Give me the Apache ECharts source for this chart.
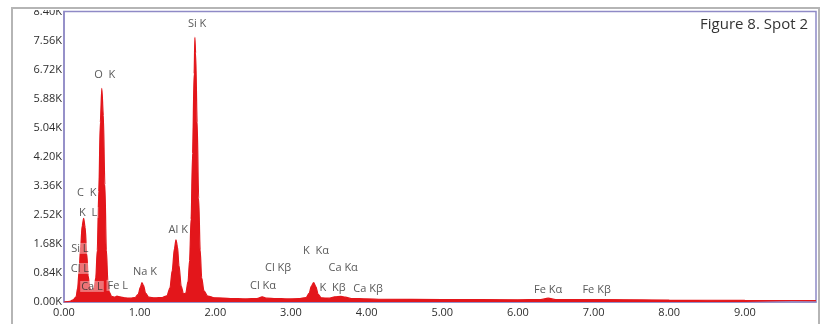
<!DOCTYPE html>
<html><head><meta charset="utf-8">
<script src="https://cdn.jsdelivr.net/npm/echarts@6/dist/echarts.min.js"></script>
<style>html,body{margin:0;padding:0;background:#fff}#c{width:824px;height:324px}</style>
</head><body><div id="c"></div>
<script>
// Spectrum: energy (keV) and counts
const energy = [0.00,0.08,0.12,0.16,0.18,0.20,0.22,0.24,0.26,0.28,0.30,0.32,0.34,0.36,0.38,0.40,0.42,0.44,0.46,0.48,0.50,0.52,0.54,0.56,0.58,0.60,0.63,0.67,0.70,0.74,0.80,0.88,0.94,0.98,1.01,1.03,1.05,1.08,1.12,1.20,1.30,1.36,1.40,1.43,1.46,1.48,1.50,1.52,1.55,1.58,1.61,1.64,1.66,1.68,1.70,1.72,1.73,1.74,1.76,1.78,1.80,1.82,1.85,1.90,2.00,2.20,2.40,2.55,2.62,2.68,2.80,2.95,3.10,3.20,3.24,3.27,3.30,3.33,3.36,3.40,3.50,3.58,3.66,3.72,3.80,4.00,4.20,5.00,6.00,6.30,6.40,6.50,7.05,8.00,9.00,9.94];
const counts = [0,20,60,150,400,900,1600,2200,2420,2150,1400,750,420,330,340,420,700,1500,3200,5200,6180,5400,3400,1500,600,280,160,140,170,150,120,110,130,220,430,560,480,250,140,120,130,180,400,900,1550,1800,1600,1050,450,230,260,600,1200,2400,4300,6600,7650,7200,5200,3000,1500,700,320,170,120,100,90,100,150,110,100,90,95,130,250,460,560,440,220,120,110,150,160,140,100,90,80,70,65,70,110,70,70,55,45,40];
// Peak annotations: text, energy, label height
const peakNames = ["Si K","O  K","C  K","K  L","Si L","Cl L","Ca L","Fe L","Na K","Al K","Cl Kβ","Cl Kα","K  Kα","Ca Kα","K  Kβ","Ca Kβ","Fe Kα","Fe Kβ"];
const peakE =     [1.76,0.54,0.30,0.32,0.21,0.21,0.37,0.71,1.07,1.51,2.83,2.63,3.33,3.69,3.55,4.02,6.40,7.04];
const peakY =     [8040,6560,3170,2590,1550,970,450,480,880,2100,1000,480,1490,1000,420,390,360,340];
const yTicks = [0,840,1680,2520,3360,4200,5040,5880,6720,7560,8400];
const title = "Figure 8. Spot 2";

const chart = echarts.init(document.getElementById('c'));
const font = "'Open Sans', 'Noto Sans', sans-serif";
chart.setOption({
  animation:false,
  backgroundColor:'#fff',
  grid:{left:64,right:8,top:11.5,bottom:22,show:true,borderColor:'#8f8ac6',borderWidth:1.5},
  xAxis:{type:'value',min:0,max:9.94,interval:1,
    axisLine:{show:true,lineStyle:{color:'#8f8ac6',width:1.5}},
    axisTick:{show:false},splitLine:{show:false},
    axisLabel:{formatter:v=>v.toFixed(2),color:'#2e2e2e',fontSize:11,fontFamily:font,margin:5,showMaxLabel:false}},
  yAxis:{type:'value',min:yTicks[0],max:yTicks[yTicks.length-1],interval:840,
    axisLine:{show:true,lineStyle:{color:'#8f8ac6',width:1.5}},
    axisTick:{show:false},splitLine:{show:false},
    axisLabel:{formatter:v=>(v/1000).toFixed(2)+'K',color:'#2e2e2e',fontSize:11,fontFamily:font,margin:2}},
  series:[
    {type:'line',data:energy.map((e,i)=>[e,counts[i]]),symbol:'none',smooth:0.3,smoothMonotone:'x',
     lineStyle:{color:'#e3161b',width:1.2},areaStyle:{color:'#e3161b',opacity:1},z:2},
    {type:'scatter',symbolSize:0,data:peakNames.map((n,i)=>({name:n,value:[peakE[i],peakY[i]]})),
     label:{show:true,position:'inside',formatter:p=>p.name,color:'#2e2e2e',fontSize:11,fontFamily:font,
       backgroundColor:'rgba(255,255,255,0.5)',padding:[0,1]},z:5}
  ],
  graphic:[
    {type:'rect',shape:{x:13,y:0,width:50,height:10},style:{fill:'#fff'},z:100},
    {type:'rect',shape:{x:12,y:8,width:807,height:340},style:{fill:'none',stroke:'#b5b5b5',lineWidth:2},z:101},
    {type:'text',right:16,top:17,style:{text:title,fill:'#333',fontSize:15,fontFamily:font},z:101}
  ]
});
</script></body></html>
